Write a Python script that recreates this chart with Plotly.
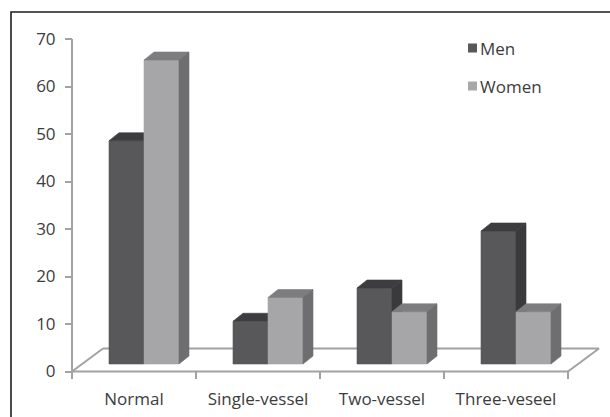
import plotly.graph_objects as go

# ---- data -------------------------------------------------------------
categories = ["Normal", "Single-vessel", "Two-vessel", "Three-veseel"]
men = [47, 9, 16, 28]
women = [64, 14, 11, 11]
y_ticks = [0, 10, 20, 30, 40, 50, 60, 70]
series_names = ["Men", "Women"]

# ---- styling ----------------------------------------------------------
MEN_FACES = {"front": "#58585a", "top": "#3d3d3f", "side": "#3a3a3c"}
WOMEN_FACES = {"front": "#a6a6a8", "top": "#7d7d7f", "side": "#6e6e70"}
AXIS_COLOR = "#a2a2a2"
TEXT_COLOR = "#3c3c3c"
FONT = "Open Sans"
FONT_SIZE = 17

# Page geometry in pixels; the oblique 3D look is built from pixel offsets
W, H = 610, 417
PLOT_L, PLOT_R, PLOT_T, PLOT_B = 62, 610, 28, 385
AX_X0 = 72          # pixel of the left end of the category axis
CAT_PX = 124        # pixel width of one category slot
Y0_PX = 371.5       # pixel of value 0 on the front plane
UNIT_PX = 4.75      # pixels per value unit

FLOOR_DX, FLOOR_DY = 31, 23      # floor depth offset (px)
SET_DX, SET_DY = 10, 7.5         # bar front face set back from the front edge (px)
BAR_DX, BAR_DY = 10, 8           # bar depth (px)
BAR_W = 35                       # bar width (px)
TICK_LEN = 7.5                   # category tick length (px)


def xu(px):
    return px / CAT_PX


def yu(px):
    return px / UNIT_PX


y_top = max(y_ticks)
x_range = [-0.5 - xu(AX_X0 - PLOT_L), -0.5 + xu(PLOT_R - AX_X0)]
y_range = [-yu(PLOT_B - Y0_PX), y_top + yu(Y0_PX - y_top * UNIT_PX - PLOT_T)]

fig = go.Figure()


def add_face(xs, ys, color):
    fig.add_trace(go.Scatter(
        x=xs + [xs[0]], y=ys + [ys[0]], mode="lines", fill="toself",
        fillcolor=color, line=dict(color=color, width=0.6),
        hoverinfo="skip", showlegend=False,
    ))


def add_bar(x0, value, faces):
    x1 = x0 + xu(BAR_W)
    base = yu(SET_DY)
    top = base + value
    ddx, ddy = xu(BAR_DX), yu(BAR_DY)
    add_face([x0, x1, x1, x0], [base, base, top, top], faces["front"])
    add_face([x0, x1, x1 + ddx, x0 + ddx], [top, top, top + ddy, top + ddy], faces["top"])
    add_face([x1, x1, x1 + ddx, x1 + ddx], [base, top, top + ddy, base + ddy], faces["side"])


# floor outline (drawn first so bars sit on top of it)
fdx, fdy = xu(FLOOR_DX), yu(FLOOR_DY)
n = len(categories)
xl, xr = -0.5, n - 0.5
fig.add_trace(go.Scatter(
    x=[xl + fdx, xr + fdx, xr], y=[fdy, fdy, 0], mode="lines",
    line=dict(color=AXIS_COLOR, width=2), hoverinfo="skip", showlegend=False,
))
fig.add_trace(go.Scatter(
    x=[xl + fdx, xl], y=[fdy, 0], mode="lines",
    line=dict(color=AXIS_COLOR, width=2), hoverinfo="skip", showlegend=False,
))

for i, cat in enumerate(categories):
    x_men = i + xu(SET_DX) - xu(BAR_W)
    x_women = i + xu(SET_DX)
    add_bar(x_men, men[i], MEN_FACES)
    add_bar(x_women, women[i], WOMEN_FACES)

# front edge of the floor = category axis, with ticks between categories
fig.add_trace(go.Scatter(
    x=[xl, xr], y=[0, 0], mode="lines",
    line=dict(color=AXIS_COLOR, width=2), hoverinfo="skip", showlegend=False,
))
for k in range(n + 1):
    fig.add_trace(go.Scatter(
        x=[xl + k, xl + k], y=[0, -yu(TICK_LEN)], mode="lines",
        line=dict(color=AXIS_COLOR, width=2), hoverinfo="skip", showlegend=False,
    ))
# value axis line
fig.add_trace(go.Scatter(
    x=[xl, xl], y=[0, y_top], mode="lines",
    line=dict(color=AXIS_COLOR, width=2), hoverinfo="skip", showlegend=False,
))

# ---- legend (square swatch + label) -----------------------------------
def px_to_paper_x(px):
    return (px - PLOT_L) / (PLOT_R - PLOT_L)


def px_to_paper_y(py):
    return (PLOT_B - py) / (PLOT_B - PLOT_T)


legend_rows = [(48, MEN_FACES["front"]), (86, "#a8a8aa")]
for (cy, color), name in zip(legend_rows, series_names):
    fig.add_shape(type="rect", xref="paper", yref="paper",
                  x0=px_to_paper_x(468), x1=px_to_paper_x(477),
                  y0=px_to_paper_y(cy + 4.5), y1=px_to_paper_y(cy - 4.5),
                  fillcolor=color, line=dict(width=0))
    fig.add_annotation(xref="paper", yref="paper",
                       x=px_to_paper_x(478), y=px_to_paper_y(cy),
                       xanchor="left", yanchor="middle", showarrow=False,
                       text=name, font=dict(family=FONT, size=FONT_SIZE, color=TEXT_COLOR))

# ---- outer frame (top and left edges) ---------------------------------
fig.add_shape(type="path", xref="paper", yref="paper",
              path="M {l},{b} L {l},{t} L {r},{t}".format(
                  l=px_to_paper_x(11), b=px_to_paper_y(H + 2),
                  t=px_to_paper_y(12), r=px_to_paper_x(W + 2)),
              line=dict(color="#1e1e1e", width=1.6))

fig.update_layout(
    width=W, height=H,
    margin=dict(l=PLOT_L, r=W - PLOT_R, t=PLOT_T, b=H - PLOT_B),
    paper_bgcolor="white", plot_bgcolor="white",
    showlegend=False,
    font=dict(family=FONT, color=TEXT_COLOR, size=FONT_SIZE),
    xaxis=dict(
        range=x_range, tickmode="array", tickvals=list(range(n)),
        ticktext=categories, showline=False, showgrid=False, zeroline=False,
        ticks="", ticklabelstandoff=2,
        tickfont=dict(family=FONT, size=FONT_SIZE, color=TEXT_COLOR),
        fixedrange=True,
    ),
    yaxis=dict(
        range=y_range, anchor="free",
        position=px_to_paper_x(AX_X0), side="left",
        tickmode="array", tickvals=y_ticks, showline=False, showgrid=False,
        zeroline=False, ticks="outside", ticklen=7, tickwidth=2,
        tickcolor=AXIS_COLOR, ticklabelstandoff=6,
        tickfont=dict(family=FONT, size=FONT_SIZE, color=TEXT_COLOR),
        fixedrange=True,
    ),
)

fig.write_html("out.html", config={"displayModeBar": False})
